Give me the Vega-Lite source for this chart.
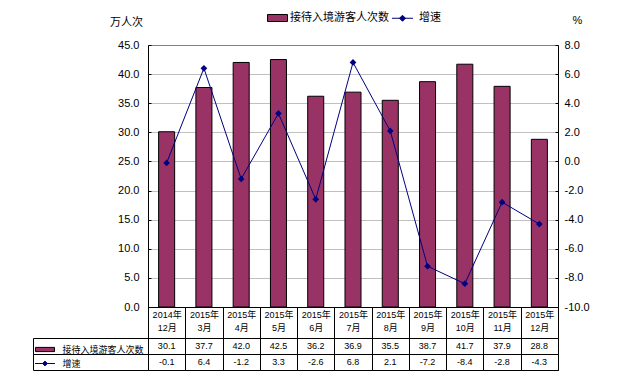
{
  "$schema": "https://vega.github.io/schema/vega-lite/v6.json",
  "padding": {"left": 32, "top": 12, "right": 5, "bottom": 5},
  "datasets": {
    "d": [
      {"月份": "2014年12月", "接待入境游客人次数": 30.1, "增速": -0.1},
      {"月份": "2015年3月", "接待入境游客人次数": 37.7, "增速": 6.4},
      {"月份": "2015年4月", "接待入境游客人次数": 42.0, "增速": -1.2},
      {"月份": "2015年5月", "接待入境游客人次数": 42.5, "增速": 3.3},
      {"月份": "2015年6月", "接待入境游客人次数": 36.2, "增速": -2.6},
      {"月份": "2015年7月", "接待入境游客人次数": 36.9, "增速": 6.8},
      {"月份": "2015年8月", "接待入境游客人次数": 35.5, "增速": 2.1},
      {"月份": "2015年9月", "接待入境游客人次数": 38.7, "增速": -7.2},
      {"月份": "2015年10月", "接待入境游客人次数": 41.7, "增速": -8.4},
      {"月份": "2015年11月", "接待入境游客人次数": 37.9, "增速": -2.8},
      {"月份": "2015年12月", "接待入境游客人次数": 28.8, "增速": -4.3}
    ]
  },
  "config": {
    "font": "Liberation Sans, Noto Sans CJK SC, sans-serif",
    "locale": {"number": {"decimal": ".", "thousands": ",", "grouping": [3], "currency": ["", ""], "minus": "-"}},
    "view": {"stroke": null},
    "axis": {"labelColor": "black", "titleColor": "black", "titleFontWeight": "normal", "labelFontSize": 11, "titleFontSize": 11, "domainColor": "black", "tickColor": "black", "labelFont": "Liberation Sans, Noto Sans CJK SC, sans-serif", "titleFont": "Liberation Sans, Noto Sans CJK SC, sans-serif"},
    "legend": {"labelColor": "black", "labelFont": "Liberation Sans, Noto Sans CJK SC, sans-serif"}
  },
  "spacing": 31,
  "bounds": "flush",
  "resolve": {
    "scale": {"x": "independent", "fill": "independent", "stroke": "independent", "shape": "independent"},
    "legend": {"fill": "independent", "stroke": "independent", "shape": "independent"}
  },
  "vconcat": [
    {
      "width": 410,
      "height": 262,
      "data": {"name": "d"},
      "encoding": {
        "x": {"field": "月份", "type": "nominal", "sort": null, "scale": {"paddingInner": 0, "paddingOuter": 0},
          "axis": {"title": null, "labels": false, "ticks": false, "domain": true, "domainColor": "black", "grid": false}}
      },
      "layer": [
        {
          "mark": {"type": "bar", "width": {"band": 0.43}, "fill": "#993366", "stroke": "black", "strokeWidth": 1},
          "encoding": {
            "y": {"field": "接待入境游客人次数", "type": "quantitative", "scale": {"domain": [0, 45], "nice": false},
              "axis": {"orient": "left", "values": [0, 5, 10, 15, 20, 25, 30, 35, 40, 45], "format": ".1f", "tickSize": -3, "labelPadding": 12,
                "grid": true, "gridColor": {"condition": {"test": "datum.value === 45", "value": "#808080"}, "value": "#c0c0c0"},
                "title": "万人次", "titleAngle": 0, "titleX": -22, "titleY": -23, "titleAlign": "center", "titleBaseline": "middle"}}
          }
        },
        {
          "layer": [
            {"mark": {"type": "line", "strokeWidth": 1, "color": "#000080"}},
            {"mark": {"type": "point", "shape": "diamond", "filled": true, "size": 45, "opacity": 1, "color": "#000080"}}
          ],
          "encoding": {
            "y": {"field": "增速", "type": "quantitative", "scale": {"domain": [-10, 8], "nice": false, "zero": false},
              "axis": {"orient": "right", "values": [-10, -8, -6, -4, -2, 0, 2, 4, 6, 8], "format": ".1f", "tickSize": -3, "labelPadding": 9,
                "grid": false, "title": "%", "titleAngle": 0, "titleX": 19, "titleY": -25, "titleAlign": "center", "titleBaseline": "middle"}}
          }
        },
        {
          "transform": [{"fold": ["接待入境游客人次数", "增速"], "as": ["系列", "数值"]}],
          "mark": {"type": "point", "opacity": 0, "filled": true},
          "encoding": {
            "fill": {"field": "系列", "type": "nominal", "scale": {"domain": ["接待入境游客人次数", "增速"], "range": ["#993366", "#000080"]},
              "legend": {"orient": "none", "legendX": 124, "legendY": -33, "direction": "horizontal", "title": null,
                "labelFontSize": 11, "labelOffset": 7, "columnPadding": 1, "symbolSize": 36, "padding": 0, "symbolOpacity": 1, "symbolStrokeWidth": 1}},
            "stroke": {"field": "系列", "type": "nominal", "scale": {"domain": ["接待入境游客人次数", "增速"], "range": ["#000000", "#000080"]},
              "legend": {"orient": "none", "legendX": 124, "legendY": -33, "direction": "horizontal", "title": null,
                "labelFontSize": 11, "labelOffset": 7, "columnPadding": 1, "symbolSize": 36, "padding": 0, "symbolOpacity": 1, "symbolStrokeWidth": 1}},
            "shape": {"field": "系列", "type": "nominal", "scale": {"domain": ["接待入境游客人次数", "增速"], "range": ["M-3.33,-1.17H3.33V1.17H-3.33Z", "M-4.83,0H2.17M-2.33,0L-1.33,-1L-0.33,0L-1.33,1Z"]},
              "legend": {"orient": "none", "legendX": 124, "legendY": -33, "direction": "horizontal", "title": null,
                "labelFontSize": 11, "labelOffset": 7, "columnPadding": 1, "symbolSize": 36, "padding": 0, "symbolOpacity": 1, "symbolStrokeWidth": 1}}
          }
        }
      ],
      "resolve": {"scale": {"y": "independent"}}
    },
    {
      "width": 410,
      "height": 32,
      "data": {"name": "d"},
      "transform": [{"fold": ["接待入境游客人次数", "增速"], "as": ["系列", "数值"]}],
      "view": {"stroke": "black"},
      "encoding": {
        "x": {"field": "月份", "type": "nominal", "sort": null, "scale": {"paddingInner": 0, "paddingOuter": 0},
          "axis": {"orient": "top", "title": null, "tickBand": "extent", "tickSize": 31, "domain": false, "grid": true, "gridColor": "black", "gridOpacity": 1,
            "labelAngle": 0, "labelFontSize": 9, "labelLineHeight": 13, "labelBaseline": "top", "labelPadding": -3.5, "labelOverlap": false,
            "labelExpr": "[slice(datum.label, 0, 5), slice(datum.label, 5)]"}},
        "y": {"field": "系列", "type": "nominal", "sort": ["接待入境游客人次数", "增速"], "scale": {"paddingInner": 0, "paddingOuter": 0},
          "axis": {"title": null, "labels": false, "offset": 115, "tickBand": "extent", "tickSize": -115, "grid": true, "gridColor": "black", "gridOpacity": 1, "domainColor": "black"}}
      },
      "layer": [
        {"mark": {"type": "text", "fontSize": 9, "color": "black"},
          "encoding": {"text": {"field": "数值", "type": "quantitative", "format": ".1f"}}},
        {"mark": {"type": "point", "opacity": 0, "filled": true},
          "encoding": {
            "fill": {"field": "系列", "type": "nominal", "scale": {"domain": ["接待入境游客人次数", "增速"], "range": ["#993366", "#000080"]},
              "legend": {"orient": "none", "legendX": -107.5, "legendY": 7, "direction": "vertical", "title": null,
                "labelFontSize": 9, "labelOffset": 13, "rowPadding": 4, "symbolSize": 36, "padding": 0, "symbolOpacity": 1, "symbolStrokeWidth": 1}},
            "stroke": {"field": "系列", "type": "nominal", "scale": {"domain": ["接待入境游客人次数", "增速"], "range": ["#000000", "#000080"]},
              "legend": {"orient": "none", "legendX": -107.5, "legendY": 7, "direction": "vertical", "title": null,
                "labelFontSize": 9, "labelOffset": 13, "rowPadding": 4, "symbolSize": 36, "padding": 0, "symbolOpacity": 1, "symbolStrokeWidth": 1}},
            "shape": {"field": "系列", "type": "nominal", "scale": {"domain": ["接待入境游客人次数", "增速"], "range": ["M-3.17,-0.7H3.17V0.7H-3.17Z", "M-3.33,0H3.33M-0.8,0L0,-0.8L0.8,0L0,0.8Z"]},
              "legend": {"orient": "none", "legendX": -107.5, "legendY": 7, "direction": "vertical", "title": null,
                "labelFontSize": 9, "labelOffset": 13, "rowPadding": 4, "symbolSize": 36, "padding": 0, "symbolOpacity": 1, "symbolStrokeWidth": 1}}
          }}
      ]
    }
  ]
}
